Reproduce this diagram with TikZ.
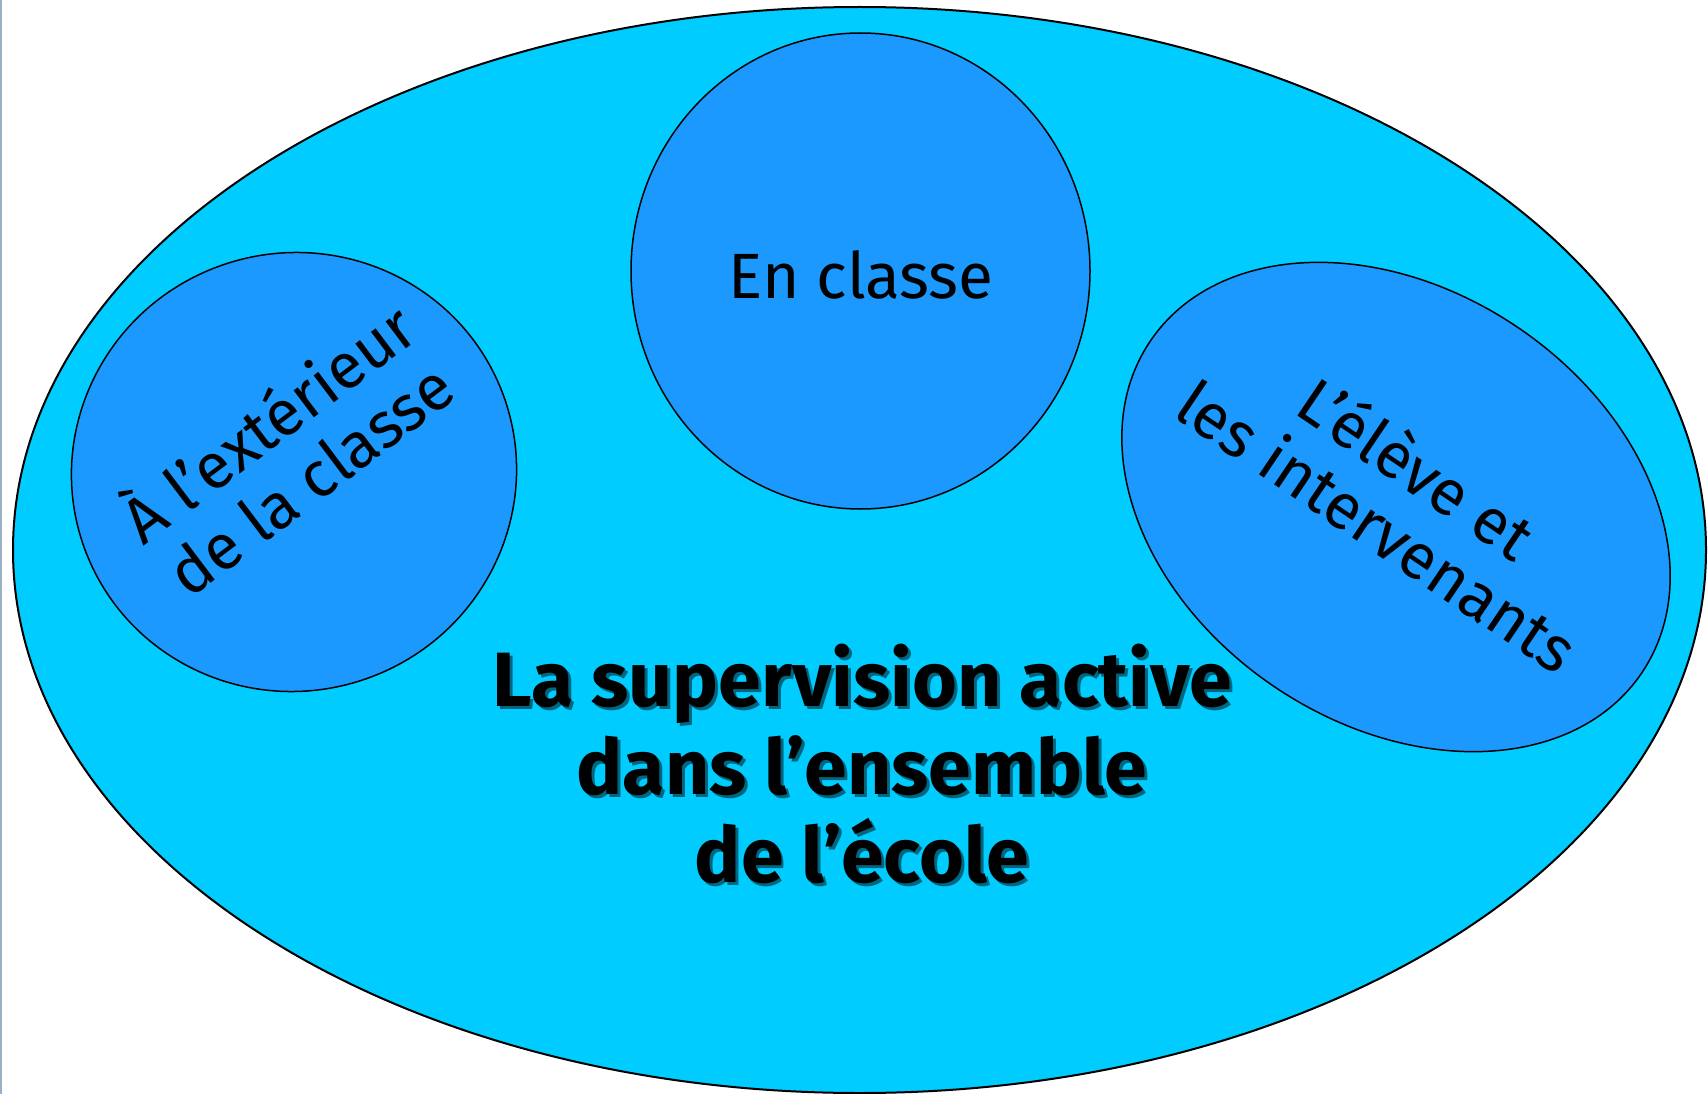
\documentclass[tikz,border=0pt]{standalone}
\usepackage{fontspec}
\setmainfont{Fira Sans}
\usetikzlibrary{shapes.geometric}
\definecolor{outerfill}{RGB}{0,204,255}
\definecolor{innerfill}{RGB}{27,153,255}
\definecolor{strip}{RGB}{154,176,196}
\tikzset{
  outerbubble/.style={ellipse, draw=black, line width=2pt, fill=outerfill, inner sep=0pt, outer sep=0pt},
  innerbubble/.style={ellipse, draw=black, line width=1.5pt, fill=innerfill, inner sep=0pt, outer sep=0pt},
  smalltext/.style={align=center, inner sep=0pt, font=\fontsize{64}{70}\selectfont},
  bigtext/.style={align=center, inner sep=0pt, font=\fontsize{77}{88}\selectfont\bfseries},
}
\begin{document}
\begin{tikzpicture}[x=1pt,y=-1pt]
\useasboundingbox (0,0) rectangle (1708,1094);
\fill[white] (0,0) rectangle (1708,1094);
\fill[strip] (0,0) rectangle (2,1094);
\node[outerbubble, minimum width=1693pt, minimum height=1086pt] (outer) at (859.5,550) {};
\node[innerbubble, minimum width=446pt, minimum height=438pt, rotate=20] (left) at (294,472) {};
\node[innerbubble, minimum width=459pt, minimum height=476pt] (mid) at (860.5,271) {};
\node[innerbubble, minimum width=593pt, minimum height=434pt, rotate=-34] (right) at (1396,507) {};
\node[smalltext, rotate=37] (lefttext) at (286,447) {À l’extérieur\\de la classe};
\node[smalltext, anchor=base] (midtext) at (861,298) {En classe};
\node[smalltext, rotate=-34] (righttext) at (1398,496) {L’élève et\\les intervenants};
\node[bigtext, text=black, opacity=0.5, anchor=base] (shadow) at (865,885) {La supervision active\\dans l’ensemble\\de l’école};
\node[bigtext, anchor=base] (title) at (862,882) {La supervision active\\dans l’ensemble\\de l’école};
\end{tikzpicture}
\end{document}
